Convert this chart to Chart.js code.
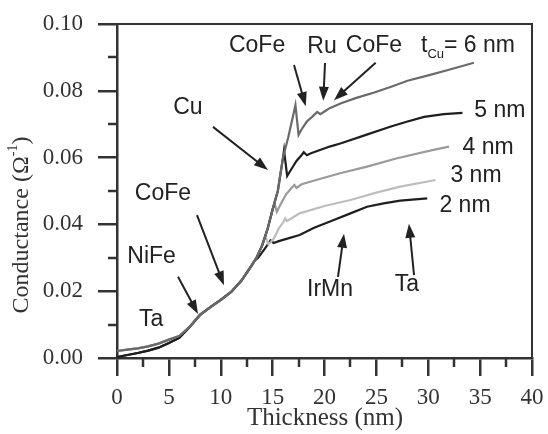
<!DOCTYPE html>
<html>
<head>
<meta charset="utf-8">
<script src="https://cdn.jsdelivr.net/npm/chart.js@4/dist/chart.umd.min.js"></script>
<style>
html,body{margin:0;padding:0;background:#fff;}
#wrap{width:548px;height:434px;}
</style>
</head>
<body>
<div id="wrap"><canvas id="grafico" width="548" height="434"></canvas></div>
<script>
// tratto comune (Ta / NiFe / CoFe / Cu)
var trunkX     = [0, 1, 2, 3, 4, 5, 6, 7, 8, 9, 10, 11, 12, 13, 13.5, 14, 14.5, 15, 15.5, 16, 16.5, 17.2];
var trunkUpper = [0.0021, 0.0025, 0.0029, 0.0035, 0.0043, 0.0055, 0.0066, 0.0093, 0.0129, 0.0152, 0.0174, 0.0198, 0.0232, 0.0278, 0.0303, 0.0338, 0.0385, 0.0445, 0.0500, 0.0600, 0.0660, 0.0757];
var trunkLower = [0.0003, 0.0009, 0.0015, 0.0022, 0.0031, 0.0045, 0.0060, 0.0093, 0.0129, 0.0152, 0.0174, 0.0198, 0.0232, 0.0278, 0.0303, 0.0338, 0.0385, 0.0445, 0.0500, 0.0600, 0.0660, 0.0757];

// parte dopo il Cu per ogni spessore
var tail6X = [17.5, 17.8, 18.3, 18.8, 19.3, 19.6, 20.0, 20.5, 21.6, 23, 24.8, 26.5, 28, 30, 32, 34.4];
var tail6Y = [0.0668, 0.0685, 0.0708, 0.0722, 0.0737, 0.0730, 0.0738, 0.0748, 0.0763, 0.0778, 0.0795, 0.0813, 0.0830, 0.0846, 0.0863, 0.0884];
var tail5X = [16.1, 16.4, 16.8, 17.3, 17.8, 18.0, 18.3, 18.7, 19.5, 20.5, 21.6, 24, 26.4, 28, 29.6, 31.5, 33.3];
var tail5Y = [0.0622, 0.0545, 0.0565, 0.0590, 0.0608, 0.0616, 0.0607, 0.0613, 0.0622, 0.0633, 0.0643, 0.0668, 0.0693, 0.0708, 0.0722, 0.0730, 0.0734];
var tail4X = [15.2, 15.4, 15.8, 16.3, 16.8, 17.1, 17.3, 17.8, 19.2, 21.5, 24.1, 27, 30.5, 32];
var tail4Y = [0.0462, 0.0438, 0.0462, 0.0490, 0.0508, 0.0518, 0.0509, 0.0520, 0.0533, 0.0553, 0.0573, 0.0598, 0.0623, 0.0633];
var tail3X = [14.3, 14.6, 15.1, 15.6, 16.1, 16.2, 16.4, 17.6, 20, 22.5, 25, 27.3, 30.7];
var tail3Y = [0.0365, 0.0340, 0.0357, 0.0388, 0.0410, 0.0418, 0.0410, 0.0433, 0.0455, 0.0473, 0.0495, 0.0513, 0.0533];
var tail2X = [13.3, 13.6, 14.2, 14.8, 15.1, 15.6, 16.5, 17.6, 19, 20.9, 22.5, 24.1, 25.7, 27.3, 29.9];
var tail2Y = [0.0292, 0.0300, 0.0325, 0.0352, 0.0344, 0.0350, 0.0358, 0.0368, 0.0390, 0.0413, 0.0433, 0.0453, 0.0463, 0.0471, 0.0478];

var xTicks = [0, 5, 10, 15, 20, 25, 30, 35, 40];
var yTicks = [0.00, 0.02, 0.04, 0.06, 0.08, 0.10];

// costruisco la serie: tratto comune fino a xFine, poi la coda
function serie(base, xFine, tx, ty) {
    var punti = [];
    for (var i = 0; i < trunkX.length; i++) {
        if (trunkX[i] <= xFine) punti.push({x: trunkX[i], y: base[i]});
    }
    for (var j = 0; j < tx.length; j++) punti.push({x: tx[j], y: ty[j]});
    return punti;
}

var etichette = [
    {t: "Ta", x: 3.28, y: 0.0114},
    {t: "NiFe", x: 3.33, y: 0.0304},
    {t: "CoFe", x: 4.43, y: 0.0491},
    {t: "Cu", x: 6.84, y: 0.0751},
    {t: "CoFe", x: 13.5, y: 0.0934},
    {t: "Ru", x: 19.76, y: 0.0931},
    {t: "CoFe", x: 24.77, y: 0.0934},
    {t: "5 nm", x: 36.9, y: 0.0740},
    {t: "4 nm", x: 35.76, y: 0.0630},
    {t: "3 nm", x: 34.6, y: 0.0545},
    {t: "2 nm", x: 33.54, y: 0.0455},
    {t: "IrMn", x: 20.53, y: 0.0204},
    {t: "Ta", x: 27.95, y: 0.0219}
];
var frecce = [
    [5.88, 0.0243, 7.81, 0.0132],
    [7.71, 0.0428, 10.31, 0.0218],
    [9.25, 0.0692, 14.55, 0.0563],
    [17.06, 0.0877, 18.19, 0.0754],
    [20.05, 0.0883, 19.88, 0.0770],
    [24.93, 0.0884, 20.92, 0.0772],
    [21.30, 0.0243, 21.88, 0.0372],
    [28.63, 0.0248, 28.14, 0.0402]
];

var scuro = "#333";
var sans = "'Liberation Sans', Arial, sans-serif";
var serif = "'Liberation Serif', 'Times New Roman', serif";

function freccia(ctx, x1, y1, x2, y2) {
    var a = Math.atan2(y2 - y1, x2 - x1), L = 14, W = 5;
    var c = Math.cos(a), s = Math.sin(a);
    ctx.beginPath();
    ctx.moveTo(x1, y1);
    ctx.lineTo(x2 - c * L * 0.7, y2 - s * L * 0.7);
    ctx.stroke();
    ctx.beginPath();
    ctx.moveTo(x2, y2);
    ctx.lineTo(x2 - c * L - s * W, y2 - s * L + c * W);
    ctx.lineTo(x2 - c * L + s * W, y2 - s * L - c * W);
    ctx.closePath();
    ctx.fill();
}

// niente padding extra delle etichette: l'area del grafico la decide il layout
function senzaPadding(s) {
    s.paddingTop = 0; s.paddingBottom = 0; s.paddingLeft = 0; s.paddingRight = 0;
}

var decorazioni = {
    id: "decorazioni",
    afterDraw: function (chart) {
        var ctx = chart.ctx, xs = chart.scales.x, ys = chart.scales.y, a = chart.chartArea;
        ctx.save();
        // cornice alto e destra
        ctx.strokeStyle = scuro;
        ctx.lineWidth = 2;
        ctx.beginPath();
        ctx.moveTo(a.left, a.top);
        ctx.lineTo(a.right, a.top);
        ctx.lineTo(a.right, a.bottom);
        ctx.stroke();
        // tacche secondarie
        ctx.lineWidth = 2.5;
        for (var v = 0.01; v < 0.1; v += 0.02) {
            var py = Math.round(ys.getPixelForValue(v));
            ctx.beginPath(); ctx.moveTo(a.left - 9, py); ctx.lineTo(a.left, py); ctx.stroke();
        }
        for (var u = 2.5; u < 40; u += 5) {
            var px = Math.round(xs.getPixelForValue(u));
            ctx.beginPath(); ctx.moveTo(px, a.bottom); ctx.lineTo(px, a.bottom + 9); ctx.stroke();
        }
        // frecce
        ctx.strokeStyle = "#222";
        ctx.fillStyle = "#222";
        ctx.lineWidth = 2;
        frecce.forEach(function (f) {
            freccia(ctx, xs.getPixelForValue(f[0]), ys.getPixelForValue(f[1]),
                xs.getPixelForValue(f[2]), ys.getPixelForValue(f[3]));
        });
        // etichette
        ctx.fillStyle = "#222";
        ctx.font = "23px " + sans;
        ctx.textAlign = "center";
        ctx.textBaseline = "middle";
        etichette.forEach(function (e) {
            ctx.fillText(e.t, xs.getPixelForValue(e.x), ys.getPixelForValue(e.y));
        });
        // t_Cu = 6 nm
        var tx = xs.getPixelForValue(29.3), ty = ys.getPixelForValue(0.0934);
        ctx.textAlign = "left";
        ctx.fillText("t", tx, ty);
        tx += ctx.measureText("t").width;
        ctx.font = "13px " + sans;
        ctx.fillText("Cu", tx, ty + 8);
        tx += ctx.measureText("Cu").width;
        ctx.font = "23px " + sans;
        ctx.fillText("= 6 nm", tx, ty);
        // titoli degli assi
        ctx.fillStyle = scuro;
        ctx.font = "25px " + serif;
        ctx.textAlign = "center";
        ctx.fillText("Thickness (nm)", 325, 418);
        ctx.translate(22, 225);
        ctx.rotate(-Math.PI / 2);
        ctx.textAlign = "left";
        var p1 = "Conductance (\u03A9", p2 = "-1", p3 = ")";
        ctx.font = "24px " + serif;
        var w1 = ctx.measureText(p1).width, w3 = ctx.measureText(p3).width;
        ctx.font = "14px " + serif;
        var w2 = ctx.measureText(p2).width;
        var x0 = -(w1 + w2 + w3) / 2;
        ctx.font = "24px " + serif;
        ctx.fillText(p1, x0, 0);
        ctx.font = "14px " + serif;
        ctx.fillText(p2, x0 + w1, -9);
        ctx.font = "24px " + serif;
        ctx.fillText(p3, x0 + w1 + w2, 0);
        ctx.restore();
    }
};

var grafico = document.getElementById("grafico").getContext("2d");
var chart = new Chart(grafico, {
    type: "line",
    data: {
        datasets: [
            {label: "6 nm", data: serie(trunkUpper, 17.2, tail6X, tail6Y), borderColor: "#6a6a6a", borderWidth: 2.2},
            {label: "5 nm", data: serie(trunkLower, 16.0, tail5X, tail5Y), borderColor: "#1e1e1e", borderWidth: 2.2},
            {label: "4 nm", data: serie(trunkUpper, 15.0, tail4X, tail4Y), borderColor: "#9a9a9a", borderWidth: 2.2},
            {label: "3 nm", data: serie(trunkUpper, 14.0, tail3X, tail3Y), borderColor: "#bdbdbd", borderWidth: 2.2},
            {label: "2 nm", data: serie(trunkLower, 13.0, tail2X, tail2Y), borderColor: "#1e1e1e", borderWidth: 2.2}
        ]
    },
    options: {
        responsive: false,
        animation: false,
        devicePixelRatio: 1,
        layout: {padding: {top: 24, right: 16, left: 0, bottom: 0}},
        elements: {line: {tension: 0}, point: {radius: 0}},
        plugins: {legend: {display: false}, tooltip: {enabled: false}},
        scales: {
            x: {
                type: "linear", min: 0, max: 40,
                afterFit: function (s) { s.height = 76; senzaPadding(s); },
                afterBuildTicks: function (s) { s.ticks = xTicks.map(function (v) { return {value: v}; }); },
                grid: {drawOnChartArea: false, tickLength: 18, color: scuro, lineWidth: 2.5},
                border: {color: scuro, width: 2.5},
                ticks: {font: {family: serif, size: 23}, color: scuro, padding: 8, maxRotation: 0}
            },
            y: {
                min: 0, max: 0.1,
                afterFit: function (s) { s.width = 117; senzaPadding(s); },
                afterBuildTicks: function (s) { s.ticks = yTicks.map(function (v) { return {value: v}; }); },
                grid: {drawOnChartArea: false, tickLength: 19, color: scuro, lineWidth: 2.5},
                border: {color: scuro, width: 2.5},
                ticks: {font: {family: serif, size: 23}, color: scuro, padding: 15,
                    callback: function (v) { return v.toFixed(2); }}
            }
        }
    },
    plugins: [decorazioni]
});
</script>
</body>
</html>
